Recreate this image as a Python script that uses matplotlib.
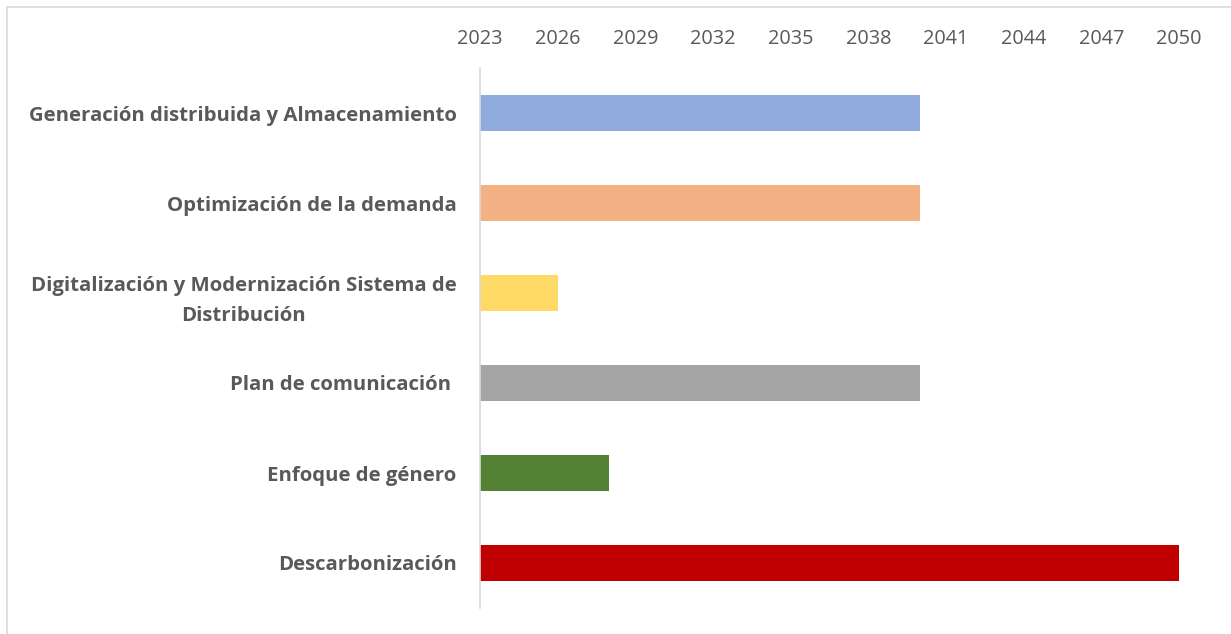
import matplotlib.pyplot as plt
from matplotlib.patches import Rectangle

categories = [
    'Generación distribuida y Almacenamiento',
    'Optimización de la demanda',
    'Digitalización y Modernización Sistema de\nDistribución',
    'Plan de comunicación ',
    'Enfoque de género',
    'Descarbonización',
]
start_year = 2023
end_years = [2040, 2040, 2026, 2040, 2028, 2050]
colors = ['#8FAADC', '#F4B183', '#FFD966', '#A5A5A5', '#548235', '#C00000']
year_ticks = list(range(2023, 2051, 3))

plt.rcParams['font.family'] = ['Open Sans', 'DejaVu Sans']

fig = plt.figure(figsize=(12.31, 6.34), dpi=100)
ax = fig.add_axes([480 / 1231, 1 - 608 / 634, 699 / 1231, 540 / 634])

ypos = list(range(len(categories)))
widths = [e - start_year for e in end_years]
ax.barh(ypos, widths, left=start_year, height=0.4, color=colors)

ax.set_xlim(2023, 2050)
ax.set_ylim(len(categories) - 0.5, -0.5)
ax.set_xticks(year_ticks)
ax.set_xticklabels([str(y) for y in year_ticks], fontsize=14.3, color='#595959')
ax.xaxis.tick_top()
ax.tick_params(axis='x', length=0, pad=14)
ax.set_yticks(ypos)
ax.set_yticklabels(categories, fontsize=14.7, fontweight='bold', color='#595959',
                   multialignment='center', linespacing=1.7)
ax.tick_params(axis='y', length=0, pad=17)

for s in ['top', 'right', 'bottom']:
    ax.spines[s].set_visible(False)
ax.spines['left'].set_color('#D9D9D9')
ax.spines['left'].set_linewidth(1.2)

# chart area border (cropped on the right and bottom)
fig.patches.append(Rectangle((7 / 1231, -0.05), 1.1, 1 - 7 / 634 + 0.05,
                             transform=fig.transFigure, fill=False,
                             edgecolor='#D9D9D9', linewidth=1.2))

fig.savefig('out.png', dpi=100)
